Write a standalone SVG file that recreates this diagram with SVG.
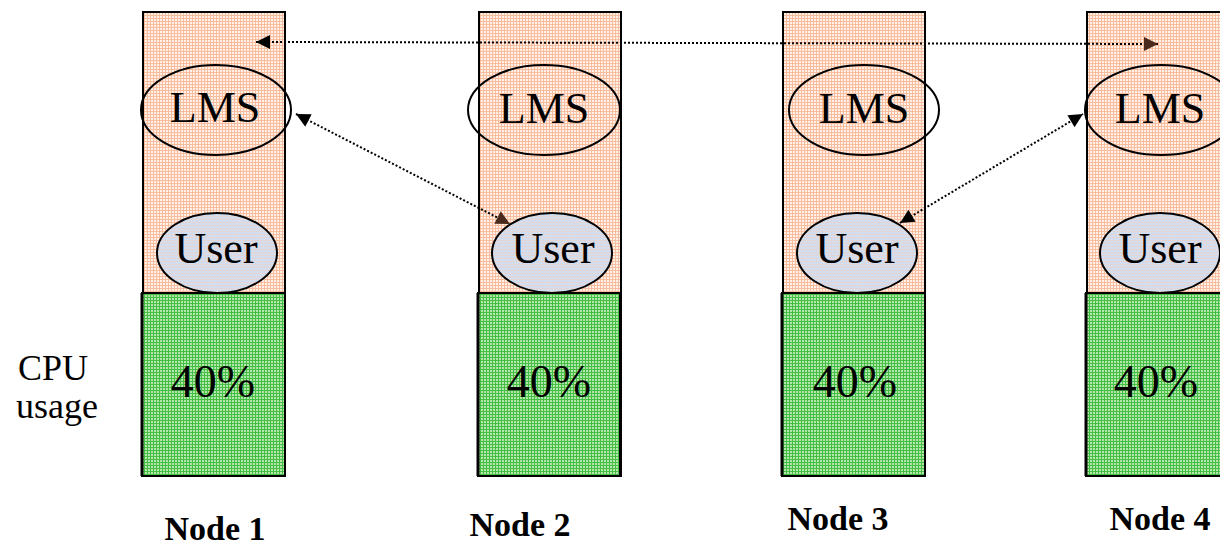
<svg xmlns="http://www.w3.org/2000/svg" width="1220" height="546" viewBox="0 0 1220 546">
  <defs>
    <!-- fine grid textures for the column fills -->
    <pattern id="peach" width="3" height="3" patternUnits="userSpaceOnUse">
      <rect width="3" height="3" fill="#fff0e8"/>
      <rect width="3" height="1" fill="#f7bd9e"/>
      <rect width="1" height="3" fill="#f7bd9e"/>
    </pattern>
    <pattern id="green" width="3" height="3" patternUnits="userSpaceOnUse">
      <rect width="3" height="3" fill="#b3e6aa"/>
      <rect width="3" height="1" fill="#45be45"/>
      <rect width="1" height="3" fill="#45be45"/>
    </pattern>
    <pattern id="blue" width="3" height="3" patternUnits="userSpaceOnUse">
      <rect width="3" height="3" fill="#cfe0f6"/>
      <rect width="3" height="1" fill="#e9d3cc"/>
      <rect width="1" height="3" fill="#dcd8e0"/>
    </pattern>
    <marker id="headBlack" viewBox="0 0 10 10" refX="10" refY="5" markerWidth="16" markerHeight="14" markerUnits="userSpaceOnUse" orient="auto-start-reverse">
      <path d="M0,0 L10,5 L0,10 Z" fill="#000"/>
    </marker>
    <marker id="headBrown" viewBox="0 0 10 10" refX="10" refY="5" markerWidth="16" markerHeight="14" markerUnits="userSpaceOnUse" orient="auto-start-reverse">
      <path d="M0,0 L10,5 L0,10 Z" fill="#4a2a1c"/>
    </marker>
  </defs>
  <style>
    .col { fill: url(#peach); stroke: #000; stroke-width: 2; }
    .cpu { fill: url(#green); stroke: #000; stroke-width: 2; }
    .lms { fill: none; stroke: #000; stroke-width: 2; }
    .user { fill: url(#blue); stroke: #000; stroke-width: 2; }
    text { font-family: "Liberation Serif", "Times New Roman", serif; fill: #000; text-anchor: middle; }
    .big { font-size: 44px; }
    .pct { font-size: 46px; }
    .lbl { font-size: 34px; font-weight: bold; }
    .side { font-size: 36px; text-anchor: start; }
    .link { fill: none; stroke: #000; stroke-width: 2; stroke-dasharray: 2 2; }
  </style>

  <rect width="1220" height="546" fill="#fff"/>

  <!-- side caption -->
  <text class="side" x="18" y="380">CPU</text>
  <text class="side" x="16" y="418">usage</text>

  <g id="node1">
    <rect class="col" x="143" y="12" width="142" height="464"/>
    <rect class="cpu" x="142" y="293" width="143" height="183"/>
    <line x1="142" y1="293" x2="142" y2="476" stroke="#000" stroke-width="3"/>
    <ellipse class="lms" cx="216" cy="110" rx="75" ry="45"/>
    <text class="big" x="215" y="122">LMS</text>
    <ellipse class="user" cx="217" cy="253" rx="60" ry="40"/>
    <text class="big" x="216" y="263">User</text>
    <text class="pct" x="213" y="397">40%</text>
    <text class="lbl" x="215" y="540">Node 1</text>
  </g>

  <g id="node2">
    <rect class="col" x="479" y="12" width="142" height="464"/>
    <rect class="cpu" x="478" y="293" width="142" height="183"/>
    <line x1="478" y1="293" x2="478" y2="476" stroke="#000" stroke-width="3"/>
    <ellipse class="lms" cx="544" cy="110" rx="76" ry="45"/>
    <text class="big" x="544" y="123">LMS</text>
    <ellipse class="user" cx="552" cy="253" rx="60" ry="40"/>
    <text class="big" x="553" y="263">User</text>
    <text class="pct" x="549" y="397">40%</text>
    <text class="lbl" x="520" y="536">Node 2</text>
  </g>

  <g id="node3">
    <rect class="col" x="783" y="12" width="142" height="464"/>
    <rect class="cpu" x="782" y="293" width="143" height="183"/>
    <line x1="782" y1="293" x2="782" y2="476" stroke="#000" stroke-width="3"/>
    <ellipse class="lms" cx="864" cy="110" rx="75" ry="45"/>
    <text class="big" x="864" y="123">LMS</text>
    <ellipse class="user" cx="857" cy="253" rx="60" ry="40"/>
    <text class="big" x="857" y="263">User</text>
    <text class="pct" x="855" y="397">40%</text>
    <text class="lbl" x="838" y="530">Node 3</text>
  </g>

  <g id="node4">
    <rect class="col" x="1087" y="12" width="142" height="464"/>
    <rect class="cpu" x="1086" y="293" width="143" height="183"/>
    <line x1="1086" y1="293" x2="1086" y2="476" stroke="#000" stroke-width="3"/>
    <ellipse class="lms" cx="1161" cy="110" rx="76" ry="45"/>
    <text class="big" x="1160" y="123">LMS</text>
    <ellipse class="user" cx="1160" cy="253" rx="60" ry="40"/>
    <text class="big" x="1160" y="263">User</text>
    <text class="pct" x="1156" y="397">40%</text>
    <text class="lbl" x="1160" y="530">Node 4</text>
  </g>

  <g id="connectors">
    <line class="link" x1="256" y1="42" x2="1158" y2="44" marker-start="url(#headBlack)" marker-end="url(#headBrown)"/>
    <line class="link" x1="296" y1="114" x2="510" y2="224" marker-start="url(#headBlack)" marker-end="url(#headBrown)"/>
    <line class="link" x1="900" y1="223" x2="1083" y2="114" marker-start="url(#headBlack)" marker-end="url(#headBlack)"/>
  </g>
</svg>
